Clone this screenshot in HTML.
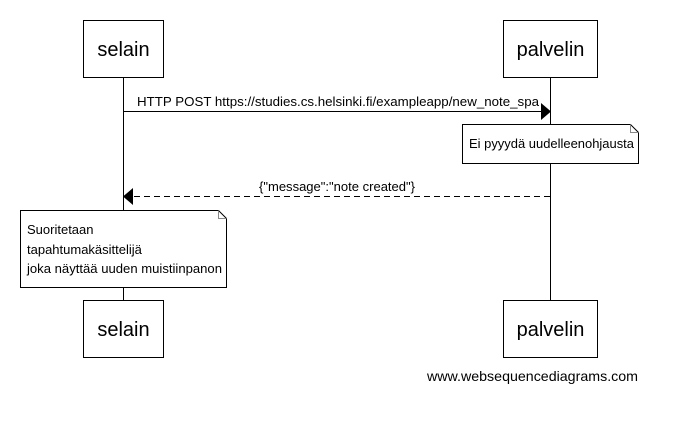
<!DOCTYPE html>
<html><head><meta charset="utf-8"><style>
html,body{margin:0;padding:0;background:#fff;}
svg text{font-family:"Liberation Sans",Arial,sans-serif;fill:#000;}
</style></head><body>
<svg width="676" height="417" viewBox="0 0 676 417" xmlns="http://www.w3.org/2000/svg">
<g stroke="#000" stroke-width="1" fill="none">
<line x1="123.5" y1="77" x2="123.5" y2="300"/>
<line x1="550.5" y1="77" x2="550.5" y2="300"/>
<rect x="83.5" y="20.5" width="80" height="57" fill="#fff"/>
<rect x="503.5" y="20.5" width="94" height="57" fill="#fff"/>
<rect x="83.5" y="300.5" width="80" height="57" fill="#fff"/>
<rect x="503.5" y="300.5" width="94" height="57" fill="#fff"/>
<line x1="123.5" y1="111.5" x2="542" y2="111.5"/>
<line x1="550" y1="196.5" x2="132" y2="196.5" stroke-dasharray="6,4"/>
<path d="M462.5 124.5 H630.5 L638.5 132.5 V163.5 H462.5 Z" fill="#fff"/>
<path d="M630.5 124.5 V132.5 H638.5" stroke="#888"/>
<path d="M20.5 210.5 H218.5 L226.5 218.5 V287.5 H20.5 Z" fill="#fff"/>
<path d="M218.5 210.5 V218.5 H226.5" stroke="#888"/>
</g>
<polygon points="541,103 551,111.5 541,120" fill="#000"/>
<polygon points="133,188 123,196.5 133,205" fill="#000"/>
<g font-size="20" text-anchor="middle">
<text x="123.5" y="56">selain</text>
<text x="550.5" y="56">palvelin</text>
<text x="123.5" y="336">selain</text>
<text x="550.5" y="336">palvelin</text>
</g>
<text x="137" y="106" font-size="13" textLength="402" lengthAdjust="spacingAndGlyphs">HTTP POST https://studies.cs.helsinki.fi/exampleapp/new_note_spa</text>
<text x="259" y="191" font-size="13" textLength="156" lengthAdjust="spacingAndGlyphs">{"message":"note created"}</text>
<text x="469" y="148" font-size="13" textLength="165" lengthAdjust="spacingAndGlyphs">Ei pyyydä uudelleenohjausta</text>
<g font-size="13">
<text x="27" y="234">Suoritetaan</text>
<text x="27" y="254">tapahtumakäsittelijä</text>
<text x="27" y="273" textLength="195" lengthAdjust="spacingAndGlyphs">joka näyttää uuden muistiinpanon</text>
</g>
<text x="427" y="381" font-size="14" textLength="211" lengthAdjust="spacingAndGlyphs">www.websequencediagrams.com</text>
</svg>
</body></html>
